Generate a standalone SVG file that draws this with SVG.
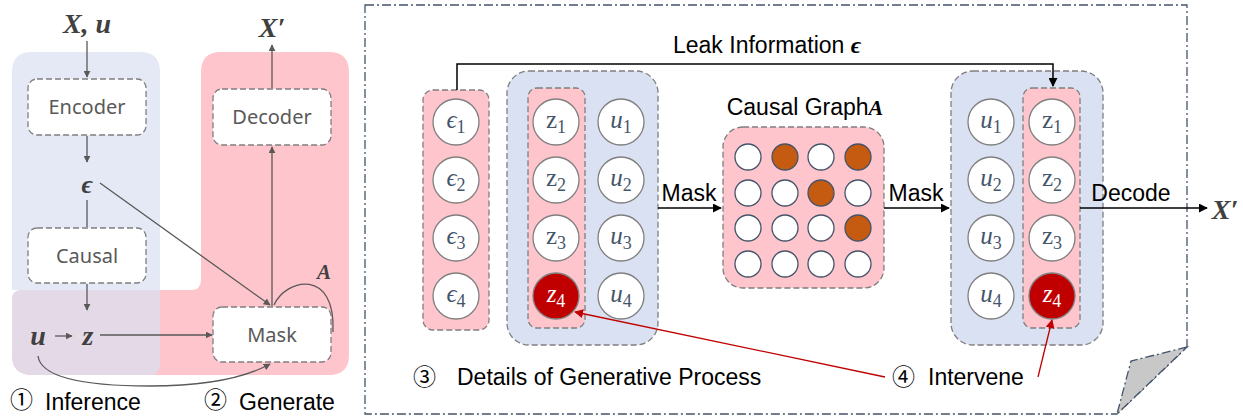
<svg xmlns="http://www.w3.org/2000/svg" width="1243" height="416" viewBox="0 0 1243 416">
<defs>
<marker id="ag" viewBox="0 0 10 10" refX="9" refY="5" markerWidth="7" markerHeight="7" orient="auto-start-reverse" markerUnits="userSpaceOnUse"><path d="M0,0 L10,5 L0,10 Z" fill="#595959"/></marker>
<marker id="ak" viewBox="0 0 10 10" refX="9" refY="5" markerWidth="9" markerHeight="9" orient="auto" markerUnits="userSpaceOnUse"><path d="M0,0 L10,5 L0,10 Z" fill="#000"/></marker>
<marker id="ar" viewBox="0 0 10 10" refX="9" refY="5" markerWidth="9" markerHeight="9" orient="auto" markerUnits="userSpaceOnUse"><path d="M0,0 L10,5 L0,10 Z" fill="#c00000"/></marker>
</defs>
<style>
.box{fill:#fff;stroke:#7f7f7f;stroke-width:1.3;stroke-dasharray:6,3}
.lt{font-family:"Noto Sans","Open Sans",sans-serif;font-size:20px;fill:#595959;text-anchor:middle}
.gl{stroke:#595959;stroke-width:1.3;fill:none}
.math{font-family:"Liberation Serif","DejaVu Serif",serif;font-weight:bold;font-style:italic;fill:#404040}
.cap{font-family:"Liberation Sans",Arial,"Noto Sans CJK SC",sans-serif;font-size:23px;fill:#000}
.circ{font-family:"Noto Sans CJK SC","DejaVu Sans",sans-serif;font-size:23px;fill:#000}
.pill{fill:#ffc5cc;stroke:#7f7f7f;stroke-width:1.3;stroke-dasharray:6,3}
.bluebox{fill:#d9e1f2;stroke:#7f7f7f;stroke-width:1.3;stroke-dasharray:6,3}
.nd{fill:#fff;stroke:#7f7f7f;stroke-width:1.3}
.ndr{fill:#c00000;stroke:#7f7f7f;stroke-width:1.3}
.nt{font-family:"Liberation Serif","DejaVu Serif",serif;font-size:25px;fill:#44546a;text-anchor:middle}
.sub{font-size:18px}
.g{fill:#fff;stroke:#44546a;stroke-width:1.3}
.go{fill:#c55a11;stroke:#44546a;stroke-width:1.3}
.kl{stroke:#000;stroke-width:1.5;fill:none}
.rl{stroke:#c00000;stroke-width:1.3;fill:none}
</style>

<!-- Left panel backgrounds -->
<g id="bg-left">
<path d="M221,52 H329 Q349,52 349,72 V355 Q349,375 329,375 H32 Q12,375 12,355 V300 Q12,290 22,290 H191 Q201,290 201,280 V72 Q201,52 221,52 Z" fill="#ffc5cc"/>
<path d="M32,52 H140 Q160,52 160,72 V290 H12 V72 Q12,52 32,52 Z" fill="#e4e9f5"/>
<path d="M22,290 H160 V365 Q160,375 150,375 H32 Q12,375 12,355 V300 Q12,290 22,290 Z" fill="#e4d9e6"/>
</g>

<g id="encoder"><rect class="box" x="28" y="79" width="118" height="56" rx="9"/><text class="lt" x="87" y="114">Encoder</text></g>
<g id="decoder"><rect class="box" x="213" y="89" width="118" height="56" rx="9"/><text class="lt" x="272" y="124">Decoder</text></g>
<g id="causal"><rect class="box" x="28" y="228" width="118" height="55" rx="9"/><text class="lt" x="87" y="263">Causal</text></g>
<g id="mask"><rect class="box" x="213" y="307" width="118" height="55" rx="9"/><text class="lt" x="272" y="342">Mask</text></g>

<g id="left-labels">
<text class="math" x="87" y="33" font-size="28" text-anchor="middle">X, u</text>
<text class="math" x="272" y="37" font-size="28" text-anchor="middle">X′</text>
<text class="math" x="87" y="193" font-size="26" text-anchor="middle">ϵ</text>
<text class="math" x="38" y="345" font-size="28" text-anchor="middle">u</text>
<text class="math" x="88" y="345" font-size="28" text-anchor="middle">z</text>
<text class="math" x="324" y="279" font-size="21" text-anchor="middle">A</text>
<text class="circ" x="10" y="408" font-size="21">①</text><text class="cap" x="45" y="410">Inference</text>
<text class="circ" x="204" y="408" font-size="21">②</text><text class="cap" x="239" y="410">Generate</text>
</g>

<g id="left-connectors">
<line class="gl" x1="87" y1="41" x2="87" y2="77" marker-end="url(#ag)"/>
<line class="gl" x1="87" y1="136" x2="87" y2="162" marker-end="url(#ag)"/>
<line class="gl" x1="87" y1="200" x2="87" y2="227"/>
<line class="gl" x1="87" y1="284" x2="87" y2="310" marker-end="url(#ag)"/>
<line class="gl" x1="55" y1="336" x2="72" y2="336" marker-end="url(#ag)"/>
<line class="gl" x1="100" y1="335" x2="212" y2="335" marker-end="url(#ag)"/>
<line class="gl" x1="272" y1="306" x2="272" y2="147" marker-end="url(#ag)"/>
<line class="gl" x1="272" y1="88" x2="272" y2="45" marker-end="url(#ag)"/>
<line class="gl" x1="100" y1="183" x2="270" y2="305" marker-end="url(#ag)"/>
<path class="gl" d="M274,305 C286,278 336,268 333,332"/>
<path class="gl" d="M38,356 Q42,386 150,386 Q230,386 270,364" marker-end="url(#ag)"/>
</g>

<!-- Right panel frame -->
<g id="frame">
<path d="M365,5 H1187 V347 L1117,414 H365 Z" fill="none" stroke="#44546a" stroke-width="1.3" stroke-dasharray="9,3,2,3"/>
<path d="M1187,347 L1131,361 L1117,414 Z" fill="#c8c8c8" stroke="#44546a" stroke-width="1.3" stroke-dasharray="9,3,2,3"/>
</g>

<g id="eps-column">
<rect class="pill" x="423" y="90" width="66" height="240" rx="10"/>
<circle class="nd" cx="456" cy="122" r="23"/><text class="nt" x="456" y="128"><tspan font-style="italic">ϵ</tspan><tspan class="sub" dy="5">1</tspan></text>
<circle class="nd" cx="456" cy="180" r="23"/><text class="nt" x="456" y="186"><tspan font-style="italic">ϵ</tspan><tspan class="sub" dy="5">2</tspan></text>
<circle class="nd" cx="456" cy="238" r="23"/><text class="nt" x="456" y="244"><tspan font-style="italic">ϵ</tspan><tspan class="sub" dy="5">3</tspan></text>
<circle class="nd" cx="456" cy="296" r="23"/><text class="nt" x="456" y="302"><tspan font-style="italic">ϵ</tspan><tspan class="sub" dy="5">4</tspan></text>
</g>

<g id="latent-left">
<rect class="bluebox" x="507" y="71" width="151" height="274" rx="22"/>
<rect class="pill" x="528" y="88" width="57" height="240" rx="9"/>
<circle class="nd" cx="556" cy="122" r="23"/><text class="nt" x="556" y="128">z<tspan class="sub" dy="5">1</tspan></text>
<circle class="nd" cx="556" cy="180" r="23"/><text class="nt" x="556" y="186">z<tspan class="sub" dy="5">2</tspan></text>
<circle class="nd" cx="556" cy="238" r="23"/><text class="nt" x="556" y="244">z<tspan class="sub" dy="5">3</tspan></text>
<circle class="ndr" cx="556" cy="296" r="23"/><text class="nt" x="556" y="302" style="fill:#fff"><tspan font-style="italic">z</tspan><tspan class="sub" dy="5">4</tspan></text>
<circle class="nd" cx="621" cy="122" r="23"/><text class="nt" x="621" y="128"><tspan font-style="italic">u</tspan><tspan class="sub" dy="5">1</tspan></text>
<circle class="nd" cx="621" cy="180" r="23"/><text class="nt" x="621" y="186"><tspan font-style="italic">u</tspan><tspan class="sub" dy="5">2</tspan></text>
<circle class="nd" cx="621" cy="238" r="23"/><text class="nt" x="621" y="244"><tspan font-style="italic">u</tspan><tspan class="sub" dy="5">3</tspan></text>
<circle class="nd" cx="621" cy="296" r="23"/><text class="nt" x="621" y="302"><tspan font-style="italic">u</tspan><tspan class="sub" dy="5">4</tspan></text>
</g>

<g id="causal-graph">
<text class="cap" x="805" y="115" text-anchor="middle" font-size="21">Causal Graph<tspan class="math" font-size="22" style="fill:#000">A</tspan></text>
<rect class="pill" x="723" y="127" width="161" height="161" rx="20"/>
<circle class="g" cx="748" cy="157" r="13"/><circle class="go" cx="785" cy="157" r="13"/><circle class="g" cx="821" cy="157" r="13"/><circle class="go" cx="858" cy="157" r="13"/>
<circle class="g" cx="748" cy="193" r="13"/><circle class="g" cx="785" cy="193" r="13"/><circle class="go" cx="821" cy="193" r="13"/><circle class="g" cx="858" cy="193" r="13"/>
<circle class="g" cx="748" cy="228" r="13"/><circle class="g" cx="785" cy="228" r="13"/><circle class="g" cx="821" cy="228" r="13"/><circle class="go" cx="858" cy="228" r="13"/>
<circle class="g" cx="748" cy="264" r="13"/><circle class="g" cx="785" cy="264" r="13"/><circle class="g" cx="821" cy="264" r="13"/><circle class="g" cx="858" cy="264" r="13"/>
</g>

<g id="latent-right">
<rect class="bluebox" x="951" y="71" width="152" height="274" rx="22"/>
<rect class="pill" x="1023" y="88" width="57" height="240" rx="9"/>
<circle class="nd" cx="991" cy="122" r="23"/><text class="nt" x="991" y="128"><tspan font-style="italic">u</tspan><tspan class="sub" dy="5">1</tspan></text>
<circle class="nd" cx="991" cy="180" r="23"/><text class="nt" x="991" y="186"><tspan font-style="italic">u</tspan><tspan class="sub" dy="5">2</tspan></text>
<circle class="nd" cx="991" cy="238" r="23"/><text class="nt" x="991" y="244"><tspan font-style="italic">u</tspan><tspan class="sub" dy="5">3</tspan></text>
<circle class="nd" cx="991" cy="296" r="23"/><text class="nt" x="991" y="302"><tspan font-style="italic">u</tspan><tspan class="sub" dy="5">4</tspan></text>
<circle class="nd" cx="1052" cy="122" r="23"/><text class="nt" x="1052" y="128">z<tspan class="sub" dy="5">1</tspan></text>
<circle class="nd" cx="1052" cy="180" r="23"/><text class="nt" x="1052" y="186">z<tspan class="sub" dy="5">2</tspan></text>
<circle class="nd" cx="1052" cy="238" r="23"/><text class="nt" x="1052" y="244">z<tspan class="sub" dy="5">3</tspan></text>
<circle class="ndr" cx="1052" cy="296" r="23"/><text class="nt" x="1052" y="302" style="fill:#fff"><tspan font-style="italic">z</tspan><tspan class="sub" dy="5">4</tspan></text>
</g>

<g id="right-labels">
<text class="cap" x="673" y="53" font-size="22">Leak Information  <tspan class="math" font-size="24" style="fill:#000">ϵ</tspan></text>
<text class="cap" x="689" y="201" text-anchor="middle" font-size="22">Mask</text>
<text class="cap" x="916" y="201" text-anchor="middle" font-size="22">Mask</text>
<text class="cap" x="1131" y="201" text-anchor="middle" font-size="22">Decode</text>
<text class="math" x="1225" y="219" font-size="28" text-anchor="middle">X′</text>
<text class="circ" x="413" y="385">③</text><text class="cap" x="457" y="385">Details of Generative Process</text>
<text class="circ" x="892" y="385">④</text><text class="cap" x="928" y="385">Intervene</text>
</g>

<g id="right-connectors">
<path class="kl" d="M457,90 V64 H1053 V86" marker-end="url(#ak)"/>
<line class="kl" x1="658" y1="208" x2="721" y2="208" marker-end="url(#ak)"/>
<line class="kl" x1="884" y1="208" x2="949" y2="208" marker-end="url(#ak)"/>
<line class="kl" x1="1080" y1="208" x2="1207" y2="208" marker-end="url(#ak)"/>
<line class="rl" x1="885" y1="377" x2="575" y2="312" marker-end="url(#ar)"/>
<line class="rl" x1="1038" y1="377" x2="1052" y2="320" marker-end="url(#ar)"/>
</g>
</svg>
